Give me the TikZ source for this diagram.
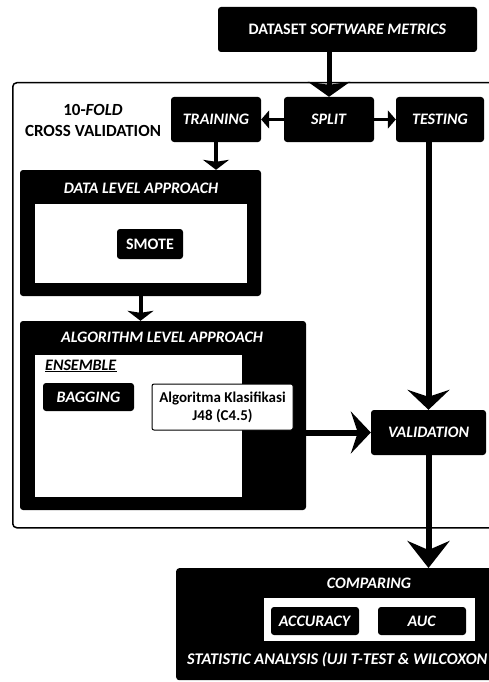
\documentclass[tikz,border=0pt]{standalone}
\usepackage{fontspec}
\setmainfont{Carlito}
\usetikzlibrary{arrows.meta}
\begin{document}
\begin{tikzpicture}[x=1pt,y=-1pt,
  lbl/.style={font=\fontsize{16}{19}\selectfont\bfseries},
  blk/.style={lbl, fill=black, rounded corners=3pt, text=white, inner sep=0pt, align=center},
  wbox/.style={fill=white, inner sep=0pt},
  conn/.style={line width=5pt},
  bigtip/.style={line width=6pt, -{Stealth[width=42pt,length=20pt,inset=7pt]}}
]
\useasboundingbox (0,0) rectangle (489,682);
\clip (0,0) rectangle (489,682);

% outer frame
\node[draw, line width=1.5pt, rounded corners=4pt, minimum width=488pt, minimum height=445pt, inner sep=0pt, anchor=north west] (frame) at (12,82) {};

% top nodes
\node[blk, minimum width=259pt, minimum height=45pt] (data) at (347.5,29.5) {DATASET \textit{SOFTWARE METRICS}};
\node[blk, minimum width=90pt, minimum height=45pt] (split) at (329,119.5) {\textit{SPLIT}};
\node[blk, minimum width=90pt, minimum height=45pt] (train) at (216,119.5) {\textit{TRAINING}};
\node[blk, minimum width=88pt, minimum height=45pt] (test) at (440,119.5) {\textit{TESTING}};
\node[lbl, align=center, inner sep=0pt, font=\fontsize{17}{21}\selectfont\bfseries] (kfold) at (93,120) {10-\textit{FOLD}\\CROSS VALIDATION};

% data level approach
\node[blk, minimum width=241pt, minimum height=126pt] (dl) at (140.5,233) {};
\node[lbl, text=white, inner sep=0pt] (dlt) at (141,188) {\textit{DATA LEVEL APPROACH}};
\node[wbox, minimum width=212pt, minimum height=79pt, anchor=north west] (dlin) at (35,204) {};
\node[blk, minimum width=66pt, minimum height=30pt] (smote) at (150,244) {SMOTE};

% algorithm level approach
\node[blk, minimum width=286pt, minimum height=189pt] (alg) at (163,415.5) {};
\node[lbl, text=white, inner sep=0pt] (algt) at (162,337) {\textit{ALGORITHM LEVEL APPROACH}};
\node[wbox, minimum width=207pt, minimum height=142pt, anchor=north west] (algin) at (35,355) {};
\node[lbl, inner sep=0pt, anchor=west] (ens) at (45,366) {\underline{\textit{ENSEMBLE}}};
\node[blk, minimum width=91pt, minimum height=28pt] (bag) at (88.5,397) {\textit{BAGGING}};
\node[draw=black, fill=white, line width=1pt, rounded corners=2pt, minimum width=141pt, minimum height=46pt, inner sep=0pt, align=center, font=\fontsize{15}{18}\selectfont\bfseries] (j48) at (222.5,407) {Algoritma Klasifikasi\\J48 (C4.5)};

% validation
\node[blk, minimum width=115pt, minimum height=45pt] (val) at (428.5,432.5) {\textit{VALIDATION}};

% comparing
\node[blk, minimum width=330pt, minimum height=112pt, anchor=north west] (cmp) at (176,568) {};
\node[lbl, text=white, inner sep=0pt] (cmpt) at (369,583) {\textit{COMPARING}};
\node[wbox, minimum width=211pt, minimum height=43pt, anchor=north west] (cmpin) at (264,598) {};
\node[blk, minimum width=88pt, minimum height=28pt] (acc) at (315,621) {\textit{ACCURACY}};
\node[blk, minimum width=88pt, minimum height=28pt] (auc) at (422,621) {\textit{AUC}};
\node[lbl, text=white, inner sep=0pt, anchor=west, font=\fontsize{16.3}{19}\selectfont\bfseries] (stat) at (187,660) {\textit{STATISTIC ANALYSIS (UJI T-TEST \& WILCOXON}};

% connectors
\draw[conn, -{Stealth[width=42pt,length=15pt,inset=3pt]}] (split.north |- data.south) -- (split.north);
\draw[line width=3.5pt, -{Triangle[width=18pt,length=8pt]}] (split.west) -- (train.east);
\draw[line width=3.5pt, -{Triangle[width=18pt,length=8pt]}] (split.east) -- (test.west);
\draw[line width=4pt, -{Stealth[width=26pt,length=10pt,inset=2pt]}] (train.south) -- (train.south |- dl.north);
\draw[line width=4pt, -{Stealth[width=26pt,length=10pt,inset=2pt]}] (dl.south) -- (dl.south |- alg.north);
\draw[bigtip] (val.north |- test.south) -- (val.north);
\draw[bigtip] (alg.east |- val.west) -- (val.west);
\draw[bigtip, -{Stealth[width=42pt,length=27pt,inset=9pt]}] (val.south) -- (val.south |- cmp.north);
\end{tikzpicture}
\end{document}
